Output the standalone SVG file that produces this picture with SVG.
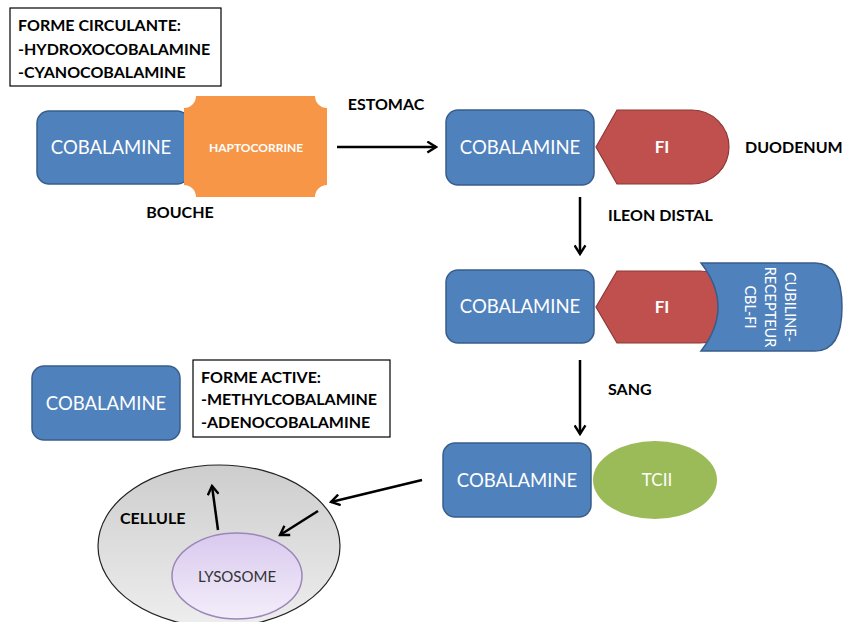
<svg xmlns="http://www.w3.org/2000/svg" width="844" height="622" viewBox="0 0 844 622">
<defs>
<style>
.lbl{font-family:Lato,"Open Sans","Liberation Sans",sans-serif;font-weight:bold;font-size:16px;fill:#000}
.wt{font-family:Lato,"Open Sans","Liberation Sans",sans-serif;fill:#fff;text-anchor:middle}
.blue{fill:#4F81BD;stroke:#385D8A;stroke-width:1.5}
.box{fill:#fff;stroke:#000;stroke-width:1.2}
.arr{stroke:#000;stroke-width:2.5;fill:none;marker-end:url(#ah)}
</style>
<marker id="ah" viewBox="0 0 12 12" refX="10" refY="6" markerWidth="13" markerHeight="13" markerUnits="userSpaceOnUse" orient="auto">
<path d="M2,1 L10,6 L2,11" fill="none" stroke="#000" stroke-width="2.2"/>
</marker>
<linearGradient id="cellG" x1="0" y1="0" x2="0" y2="1">
<stop offset="0" stop-color="#cdcdcd"/>
<stop offset="1" stop-color="#eeeeee"/>
</linearGradient>
<linearGradient id="lysoG" x1="0" y1="0" x2="0" y2="1">
<stop offset="0" stop-color="#d9c9ee"/>
<stop offset="1" stop-color="#f3eefa"/>
</linearGradient>
</defs>

<g id="forme-circulante">
<rect class="box" x="10" y="8" width="211" height="78"/>
<text class="lbl" x="18" y="31" font-size="17">FORME CIRCULANTE:</text>
<text class="lbl" x="18" y="55" font-size="17">-HYDROXOCOBALAMINE</text>
<text class="lbl" x="18" y="78" font-size="17">-CYANOCOBALAMINE</text>
</g>

<g id="cobalamine-bouche">
<rect class="blue" x="37" y="111" width="152" height="73" rx="12"/>
<text class="wt" x="111" y="154" font-size="18.5">COBALAMINE</text>
</g>

<g id="haptocorrine">
<path d="M196,96 L315,96 A12,12 0 0 0 327,108 L327,185 A12,12 0 0 0 315,197 L196,197 A12,12 0 0 0 184,185 L184,108 A12,12 0 0 0 196,96 Z" fill="#F79646"/>
<text class="wt" x="256" y="152" font-size="12" font-weight="bold">HAPTOCORRINE</text>
</g>
<text class="lbl" x="180" y="218" text-anchor="middle">BOUCHE</text>

<g id="cobalamine-duodenum">
<rect class="blue" x="446" y="110" width="148" height="75" rx="12"/>
<text class="wt" x="520" y="154" font-size="18.5">COBALAMINE</text>
</g>
<g id="fi-duodenum">
<path d="M596,147 L617,110 L692,110 A37,37 0 0 1 692,184 L617,184 Z" fill="#C0504D" stroke="#8C3836" stroke-width="1.2"/>
<text class="wt" x="662" y="153" font-size="17" font-weight="bold">FI</text>
</g>
<text class="lbl" x="745" y="153">DUODENUM</text>

<g id="cobalamine-ileon">
<rect class="blue" x="446" y="270" width="148" height="73" rx="12"/>
<text class="wt" x="520" y="313" font-size="18.5">COBALAMINE</text>
</g>
<g id="fi-ileon">
<path d="M596,307 L617,271 L700,271 A37,36 0 0 1 700,343 L617,343 Z" fill="#C0504D" stroke="#8C3836" stroke-width="1.2"/>
<text class="wt" x="662" y="313" font-size="17" font-weight="bold">FI</text>
</g>
<g id="cubiline">
<path d="M701,263 L815,263 Q842,263 842,307 Q842,351 815,351 L701,351 Q735,307 701,263 Z" class="blue"/>
<text class="wt" font-size="14.5" transform="translate(785,307) rotate(90)">CUBILINE-</text>
<text class="wt" font-size="14.5" transform="translate(765,307) rotate(90)">RECEPTEUR</text>
<text class="wt" font-size="14.5" transform="translate(745,307) rotate(90)">CBL-FI</text>
</g>

<g id="cobalamine-sang">
<rect class="blue" x="443" y="443" width="148" height="74" rx="12"/>
<text class="wt" x="517" y="487" font-size="18.5">COBALAMINE</text>
</g>
<g id="tcii">
<ellipse cx="655" cy="480" rx="62" ry="39" fill="#9BBB59"/>
<text class="wt" x="657" y="486" font-size="17">TCII</text>
</g>

<g id="cobalamine-active">
<rect class="blue" x="32" y="366" width="148" height="74" rx="12"/>
<text class="wt" x="106" y="410" font-size="18.5">COBALAMINE</text>
</g>
<g id="forme-active">
<rect class="box" x="193" y="360" width="197" height="77"/>
<text class="lbl" x="201" y="383" font-size="17">FORME ACTIVE:</text>
<text class="lbl" x="201" y="405" font-size="17">-METHYLCOBALAMINE</text>
<text class="lbl" x="201" y="428" font-size="17">-ADENOCOBALAMINE</text>
</g>

<g id="cellule">
<ellipse cx="219" cy="546" rx="121" ry="81" fill="url(#cellG)" stroke="#222" stroke-width="1.2"/>
<text class="lbl" x="120" y="524">CELLULE</text>
</g>
<g id="lysosome">
<ellipse cx="237" cy="576" rx="65" ry="43" fill="url(#lysoG)" stroke="#9c87b8" stroke-width="1.5"/>
<text x="237" y="582" text-anchor="middle" font-family="Lato,'Open Sans','Liberation Sans',sans-serif" font-size="15" fill="#333">LYSOSOME</text>
</g>

<g id="connectors">
<line class="arr" x1="337" y1="147" x2="436" y2="147"/>
<text class="lbl" x="386" y="110" text-anchor="middle">ESTOMAC</text>
<line class="arr" x1="580" y1="197" x2="580" y2="254"/>
<text class="lbl" x="608" y="221">ILEON DISTAL</text>
<line class="arr" x1="580" y1="360" x2="580" y2="434"/>
<text class="lbl" x="608" y="395">SANG</text>
<line class="arr" x1="422" y1="480" x2="331" y2="502"/>
<line class="arr" x1="218" y1="530" x2="212" y2="486"/>
<line class="arr" x1="318" y1="511" x2="280" y2="535"/>
</g>
</svg>
